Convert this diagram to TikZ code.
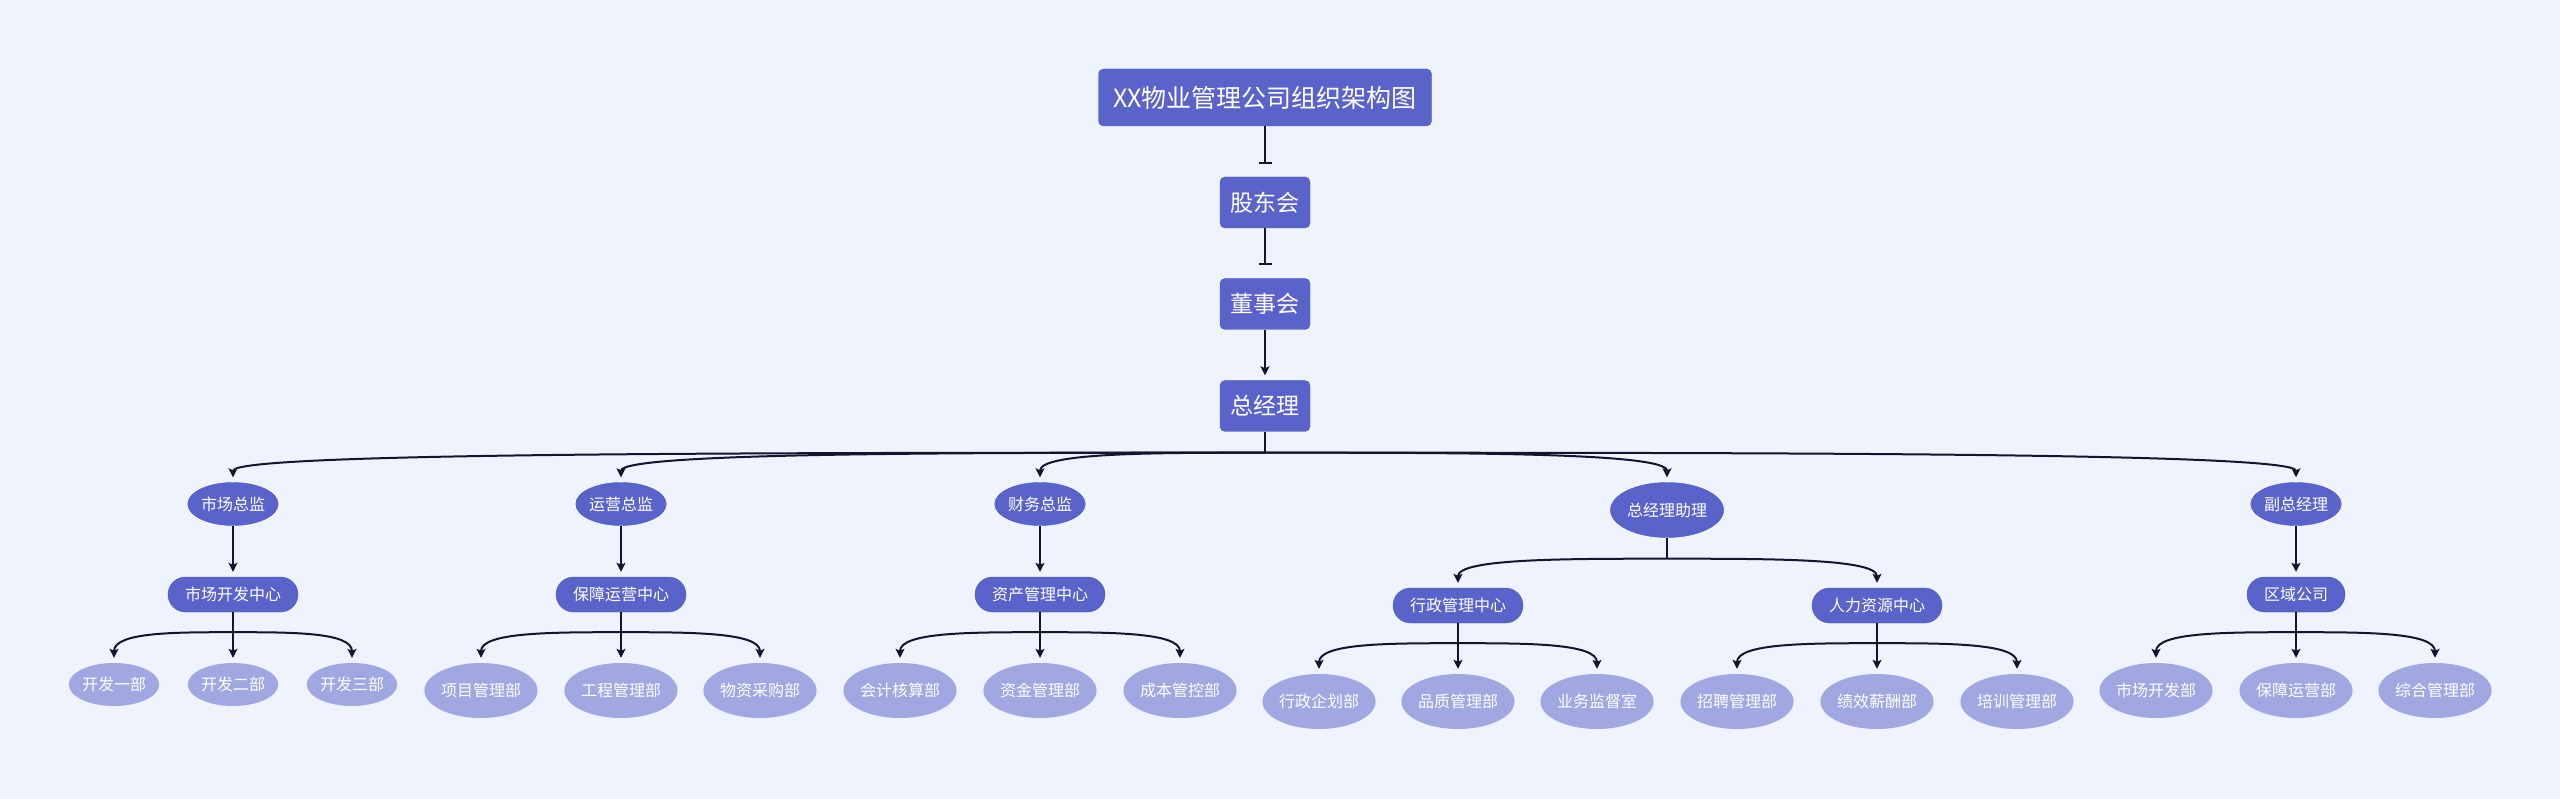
\documentclass[tikz,border=0pt]{standalone}
\usepackage{fontspec}
\setmainfont{Noto Sans CJK SC}
\usetikzlibrary{shapes.geometric,arrows.meta,calc}

\definecolor{bgblue}{HTML}{EEF3FD}
\definecolor{nodeblue}{HTML}{5A63C9}
\definecolor{edgeblue}{HTML}{4F58BF}
\definecolor{leafblue}{HTML}{A0A7E1}
\definecolor{linenavy}{HTML}{14142E}

\tikzset{
  topbox/.style={draw=edgeblue, fill=nodeblue, text=white, rounded corners=5pt,
    minimum width=90pt, minimum height=51pt, inner sep=0pt, font=\fontsize{23}{27}\selectfont},
  headoval/.style={ellipse, draw=edgeblue, fill=nodeblue, text=white,
    minimum width=89pt, minimum height=43pt, inner sep=0pt, font=\fontsize{16}{19}\selectfont},
  centerpill/.style={draw=edgeblue, fill=nodeblue, text=white, rounded corners=17.5pt,
    minimum height=35pt, inner xsep=17pt, inner ysep=0pt, font=\fontsize{16}{19}\selectfont},
  leafoval/.style={ellipse, fill=leafblue, text=white,
    minimum width=90pt, minimum height=43pt, inner sep=0pt, font=\fontsize{16}{19}\selectfont},
  wideoval/.style={leafoval, minimum width=110pt, minimum height=55pt},
  trunk/.style={draw=linenavy, line width=2pt},
  link/.style={trunk, -{Stealth[length=9pt,width=9pt,inset=2pt]}, shorten >=5pt},
  barlink/.style={trunk, -{Bar[width=13pt]}, shorten >=13pt},
}

\begin{document}
\begin{tikzpicture}[x=1pt,y=1pt]
    \path[use as bounding box, fill=bgblue] (0,0) rectangle (2560,-799);

    % top chain
    \node[topbox, minimum width=333pt, minimum height=57pt, font=\fontsize{25}{30}\selectfont] (title) at (1265,-97.5) {XX物业管理公司组织架构图};
    \node[topbox] (gdh) at (1265,-202.5) {股东会};
    \node[topbox] (dsh) at (1265,-304) {董事会};
    \node[topbox] (zjl) at (1265,-406) {总经理};

    \draw[barlink] (title) -- (gdh);
    \draw[barlink] (gdh) -- (dsh);
    \draw[link] (dsh) -- (zjl);

    % directors
    \node[headoval] (sczj) at (233,-504) {市场总监};
    \node[headoval] (yyzj) at (621,-504) {运营总监};
    \node[headoval] (cwzj) at (1040,-504) {财务总监};
    \node[headoval, minimum width=109pt, minimum height=55pt] (zjlzl) at (1667,-510) {总经理助理};
    \node[headoval] (fzjl) at (2296,-504) {副总经理};

    % centres
    \node[centerpill] (sckf) at (233,-594.5) {市场开发中心};
    \node[centerpill] (bzyy) at (621,-594.5) {保障运营中心};
    \node[centerpill] (zcgl) at (1040,-594.5) {资产管理中心};
    \node[centerpill] (xzgl) at (1458,-605.5) {行政管理中心};
    \node[centerpill] (rlzy) at (1877,-605.5) {人力资源中心};
    \node[centerpill] (qygs) at (2296,-594.5) {区域公司};

    % departments
    \node[leafoval] (kf1) at (114,-684.5) {开发一部};
    \node[leafoval] (kf2) at (233,-684.5) {开发二部};
    \node[leafoval] (kf3) at (352,-684.5) {开发三部};
    \node[wideoval] (xmgl) at (481,-690.5) {项目管理部};
    \node[wideoval] (gcgl) at (621,-690.5) {工程管理部};
    \node[wideoval] (wzcg) at (760,-690.5) {物资采购部};
    \node[wideoval] (kjhs) at (900,-690.5) {会计核算部};
    \node[wideoval] (zjgl) at (1040,-690.5) {资金管理部};
    \node[wideoval] (cbgk) at (1180,-690.5) {成本管控部};
    \node[wideoval] (xzqh) at (1319,-701.5) {行政企划部};
    \node[wideoval] (pzgl) at (1458,-701.5) {品质管理部};
    \node[wideoval] (ywjd) at (1597,-701.5) {业务监督室};
    \node[wideoval] (zpgl) at (1737,-701.5) {招聘管理部};
    \node[wideoval] (jxxc) at (1877,-701.5) {绩效薪酬部};
    \node[wideoval] (pxgl) at (2017,-701.5) {培训管理部};
    \node[wideoval] (scfz) at (2156,-690.5) {市场开发部};
    \node[wideoval] (bzyb) at (2296,-690.5) {保障运营部};
    \node[wideoval] (zhgl) at (2435,-690.5) {综合管理部};

    % branches from the general manager
    \draw[trunk] (zjl.south) -- ++(0,-21) coordinate (zb);
    \foreach \kid in {sczj,yyzj,cwzj,zjlzl,fzjl}
        \draw[link] (zb) .. controls ($(zb)!0.5!(zb -| \kid.north)$) and (zb -| \kid.north) .. (\kid.north);

    \draw[link] (sczj) -- (sckf);
    \draw[link] (yyzj) -- (bzyy);
    \draw[link] (cwzj) -- (zcgl);
    \draw[link] (fzjl) -- (qygs);

    \draw[trunk] (zjlzl.south) -- ++(0,-21) coordinate (ab);
    \foreach \kid in {xzgl,rlzy}
        \draw[link] (ab) .. controls ($(ab)!0.5!(ab -| \kid.north)$) and (ab -| \kid.north) .. (\kid.north);

    % branches from the centres
    \foreach \top/\left/\mid/\right in {sckf/kf1/kf2/kf3, bzyy/xmgl/gcgl/wzcg, zcgl/kjhs/zjgl/cbgk,
        xzgl/xzqh/pzgl/ywjd, rlzy/zpgl/jxxc/pxgl, qygs/scfz/bzyb/zhgl}{
        \draw[trunk] (\top.south) -- ++(0,-20) coordinate (cb);
        \foreach \kid in {\left,\mid,\right}
            \draw[link] (cb) .. controls ($(cb)!0.5!(cb -| \kid.north)$) and (cb -| \kid.north) .. (\kid.north);
    }
\end{tikzpicture}
\end{document}
